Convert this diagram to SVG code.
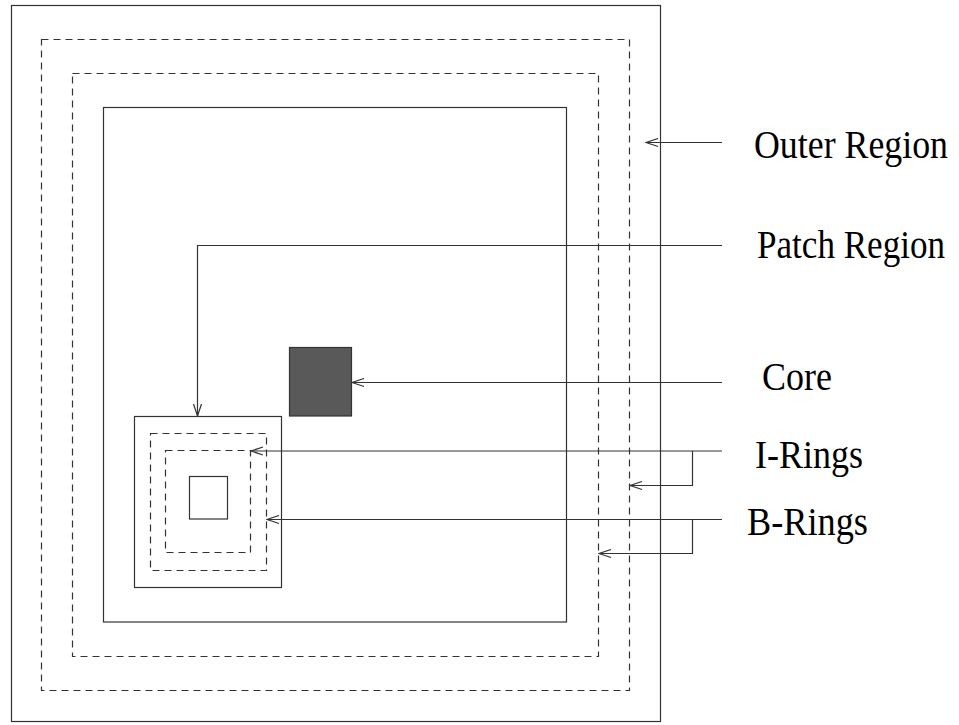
<svg xmlns="http://www.w3.org/2000/svg" width="959" height="725" viewBox="0 0 959 725">
<style>
.s{fill:none;stroke:#333;stroke-width:1.2}
.d{fill:none;stroke:#333;stroke-width:1.2;stroke-dasharray:7 5}
.c{fill:none;stroke:#333;stroke-width:1.2}
.t{font-family:"Liberation Serif","Times New Roman",serif;font-size:39px;fill:#000}
</style>
<defs>
<marker id="arr" viewBox="-13 -5 14 10" markerWidth="14" markerHeight="10" refX="0" refY="0" orient="auto" markerUnits="userSpaceOnUse">
<path d="M-12,-4 L0,0 L-12,4" fill="none" stroke="#333" stroke-width="1.2"/>
</marker>
</defs>
<rect width="959" height="725" fill="#fff"/>
<g id="outer-region"><rect class="s" x="11.5" y="5.5" width="649" height="716"/></g>
<g id="b-ring-outer"><rect class="d" x="41.5" y="39.5" width="588" height="651"/></g>
<g id="i-ring-outer"><rect class="d" x="72.5" y="73.5" width="526" height="583"/></g>
<g id="patch-region"><rect class="s" x="103.5" y="107.5" width="463" height="514.5"/></g>
<g id="patch-box"><rect class="s" x="134.5" y="416.5" width="147" height="171"/></g>
<g id="b-ring-patch"><rect class="d" x="150.5" y="433.5" width="116" height="137"/></g>
<g id="i-ring-patch"><rect class="d" x="165.5" y="450.5" width="85" height="102"/></g>
<g id="patch-core"><rect class="s" x="189.5" y="476.5" width="38" height="42.5"/></g>
<g id="core"><rect x="289.5" y="347.5" width="62" height="68.5" fill="#595959" stroke="#333" stroke-width="1.2"/></g>
<g id="connectors">
<path class="c" d="M722,142.5 H646" marker-end="url(#arr)"/>
<path class="c" d="M722,245.5 H197.5 V416" marker-end="url(#arr)"/>
<path class="c" d="M722,382.5 H352" marker-end="url(#arr)"/>
<path class="c" d="M722,451 H251" marker-end="url(#arr)"/>
<path class="c" d="M692.5,451 V485.5 H630" marker-end="url(#arr)"/>
<path class="c" d="M722,519.5 H267" marker-end="url(#arr)"/>
<path class="c" d="M692.5,519.5 V553.5 H599" marker-end="url(#arr)"/>
</g>
<g id="labels">
<text class="t" x="754" y="158" textLength="194" lengthAdjust="spacingAndGlyphs">Outer Region</text>
<text class="t" x="757" y="258" textLength="188" lengthAdjust="spacingAndGlyphs">Patch Region</text>
<text class="t" x="762" y="389.5" textLength="70" lengthAdjust="spacingAndGlyphs">Core</text>
<text class="t" x="755" y="467.5" textLength="108" lengthAdjust="spacingAndGlyphs">I-Rings</text>
<text class="t" x="747" y="535" textLength="121" lengthAdjust="spacingAndGlyphs">B-Rings</text>
</g>
</svg>
